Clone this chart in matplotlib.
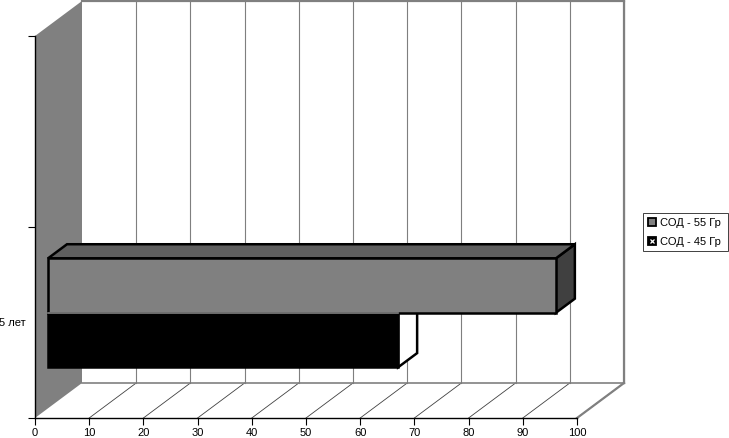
import matplotlib
matplotlib.use('Agg')
import matplotlib.pyplot as plt
from matplotlib.legend_handler import HandlerTuple
from matplotlib.lines import Line2D

plt.rcParams['font.family'] = ['Liberation Sans', 'DejaVu Sans']

categories = ['5 лет']
series_names = ['СОД - 55 Гр', 'СОД - 45 Гр']
values_55 = [93.7]
values_45 = [64.6]
x_ticks = [0, 10, 20, 30, 40, 50, 60, 70, 80, 90, 100]
y_ticks = [0, 1, 2]

W, H = 729, 438
# 3d look: how far the back wall is shifted from the front plane, in data units
DX = 47 / 5.42
DY = 35 / 191
# bars stand part of the way into the box
BAR_DEPTH_FROM = 13 / 47
BAR_DEPTH_TO = 32 / 47
BAR_H = 0.285

GRAY = '#808080'
GRID = '#7f7f7f'

fig = plt.figure(figsize=(W / 100, H / 100), dpi=100)
ax = fig.add_axes([35 / W, 1 - 418 / H, 542 / W, 382 / H])
ax.set_xlim(0, 100)
ax.set_ylim(0, 2)
ax.patch.set_visible(False)


def poly(xs, ys, **kw):
    ax.fill(xs, ys, clip_on=False, **kw)


def line(xs, ys, **kw):
    ax.plot(xs, ys, clip_on=False, solid_capstyle='projecting', **kw)


# walls
poly([0, DX, DX, 0], [0, DY, 2 + DY, 2], color=GRAY, lw=0, zorder=1)
for t in x_ticks[1:]:
    line([t + DX, t + DX], [DY, 2 + DY], color=GRID, lw=0.8, zorder=1.5)
    line([t, t + DX], [0, DY], color='#404040', lw=0.6, zorder=1.5)
line([DX, 100 + DX], [DY, DY], color=GRAY, lw=1.2, zorder=2)
line([DX, 100 + DX], [2 + DY, 2 + DY], color=GRAY, lw=1.6, zorder=2)
line([100 + DX, 100 + DX], [DY, 2 + DY], color=GRAY, lw=1.6, zorder=2)
line([100, 100 + DX], [0, DY], color=GRAY, lw=1.6, zorder=2)


def bar3d(val, y0, front, top, side, z):
    x0 = DX * BAR_DEPTH_FROM
    y1 = DY * BAR_DEPTH_FROM + y0
    x1 = x0 + val
    y2 = y1 + BAR_H
    ox = DX * (BAR_DEPTH_TO - BAR_DEPTH_FROM)
    oy = DY * (BAR_DEPTH_TO - BAR_DEPTH_FROM)
    kw = dict(edgecolor='black', lw=1.8, joinstyle='miter', zorder=z)
    poly([x1, x1 + ox, x1 + ox, x1], [y1, y1 + oy, y2 + oy, y2], facecolor=side, **kw)
    poly([x0, x1, x1 + ox, x0 + ox], [y2, y2, y2 + oy, y2 + oy], facecolor=top, **kw)
    poly([x0, x1, x1, x0], [y1, y1, y2, y2], facecolor=front, **kw)


center = 0.5
bar3d(values_45[0], center - BAR_H, 'black', 'white', 'white', 3)
bar3d(values_55[0], center, GRAY, '#5f5f5f', '#404040', 4)
# thin lighter seam between the two fronts
x_seam = DX * BAR_DEPTH_FROM
y_seam = center + DY * BAR_DEPTH_FROM
line([x_seam, x_seam + values_45[0]], [y_seam, y_seam], color=GRAY, lw=1.2, zorder=5)

# axes
for s in ['top', 'right']:
    ax.spines[s].set_visible(False)
for s in ['left', 'bottom']:
    ax.spines[s].set_linewidth(1.0)
    ax.spines[s].set_zorder(6)
ax.set_xticks(x_ticks)
ax.set_yticks(y_ticks)
ax.set_yticklabels([])
ax.set_yticks([center], labels=categories, minor=True)
ax.tick_params(axis='x', labelsize=8, length=5, width=0.8, pad=2.5)
ax.tick_params(axis='y', which='major', length=5, width=0.8)
ax.tick_params(axis='y', which='minor', labelsize=8, length=0, pad=6.5)

# legend
h1 = Line2D([], [], ls='', marker='s', ms=5.5, mfc=GRAY, mec='black', mew=1.3)
h2a = Line2D([], [], ls='', marker='s', ms=5.5, mfc='black', mec='black', mew=1.3)
h2b = Line2D([], [], ls='', marker='x', ms=3.5, mec='white', mew=0.9)
leg = fig.legend([h1, (h2a, h2b)], series_names,
                 handler_map={tuple: HandlerTuple(ndivide=1)},
                 loc='upper left', bbox_to_anchor=(643 / W, 1 - 213 / H, 85 / W, 0),
                 mode='expand', borderaxespad=0, fontsize=8, fancybox=False,
                 framealpha=1, edgecolor='#404040', borderpad=0.42,
                 labelspacing=0.8, handlelength=0.8, handletextpad=0.3)
leg.get_frame().set_linewidth(0.7)

fig.savefig('out.png', dpi=100)
